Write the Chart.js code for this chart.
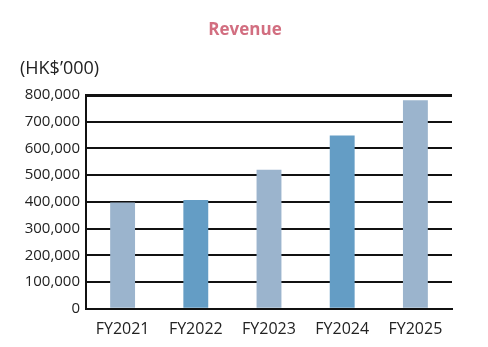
<!DOCTYPE html>
<html>
<head>
<meta charset="utf-8">
<script src="https://cdn.jsdelivr.net/npm/chart.js@4"></script>
<style>
  html, body { margin: 0; padding: 0; background: #fff; }
  #wrap { width: 488px; height: 347px; position: relative; }
</style>
</head>
<body>
<div id="wrap"><canvas id="revenueChart"></canvas></div>
<script>
// Chart data
const years = ['FY2021', 'FY2022', 'FY2023', 'FY2024', 'FY2025'];
const revenue = [398000, 407000, 520000, 648000, 780000];
const barColors = ['#9bb4cd', '#649dc5', '#9bb4cd', '#649dc5', '#9bb4cd'];
const chartTitle = 'Revenue';
const unitLabel = '(HK$\u2019000)';

const FONT = "'Open Sans', 'Noto Sans', sans-serif";

// title and unit label sit at fixed spots above the plot
const headerText = {
    id: 'headerText',
    afterDraw(chart) {
        const c = chart.ctx;
        c.save();
        c.textBaseline = 'middle';
        c.fillStyle = '#d26e80';
        c.font = `bold 17px ${FONT}`;
        c.textAlign = 'center';
        c.fillText(chartTitle, 245, 30);
        c.fillStyle = '#222';
        c.font = `18px ${FONT}`;
        c.textAlign = 'left';
        c.fillText(unitLabel, 20, 69);
        c.restore();
    }
};

const chart = new Chart(document.getElementById('revenueChart').getContext('2d'), {
    type: 'bar',
    data: {
        labels: years,
        datasets: [{
            label: 'Revenue',
            data: revenue,
            backgroundColor: barColors,
            borderWidth: 0,
            barPercentage: 0.34,
            categoryPercentage: 1
        }]
    },
    options: {
        responsive: true,
        maintainAspectRatio: false,
        animation: false,
        layout: { padding: { left: 0, right: 36, top: 95, bottom: 5 } },
        plugins: {
            legend: { display: false },
            tooltip: { enabled: false }
        },
        scales: {
            x: {
                grid: { display: false },
                border: { display: true, color: '#111', width: 2 },
                ticks: {
                    color: '#222',
                    font: { family: FONT, size: 16 },
                    padding: 3
                }
            },
            y: {
                min: 0,
                max: 800000,
                afterFit: (scale) => { scale.width = 86; },
                grid: {
                    color: '#111',
                    lineWidth: (ctx) => (ctx.tick && ctx.tick.value === 800000 ? 3 : 2),
                    drawTicks: false
                },
                border: { display: true, color: '#111', width: 2 },
                ticks: {
                    stepSize: 100000,
                    color: '#222',
                    padding: 6,
                    font: { family: FONT, size: 15 },
                    callback: (v) => v.toLocaleString('en-US')
                }
            }
        }
    },
    plugins: [headerText]
});
</script>
</body>
</html>
